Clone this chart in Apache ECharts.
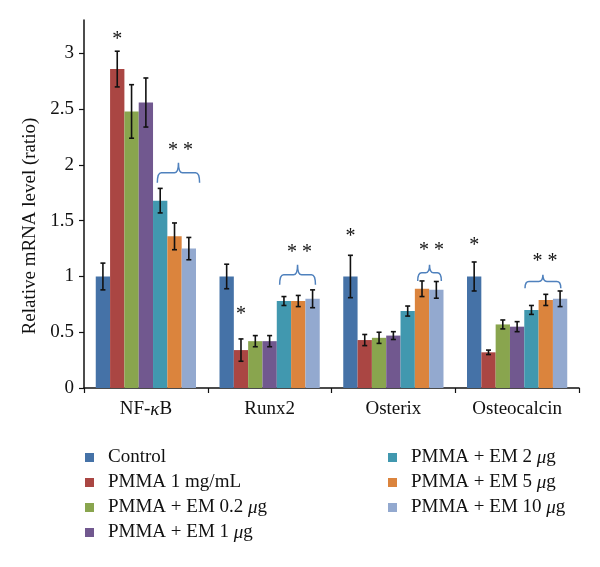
<!DOCTYPE html>
<html>
<head>
<meta charset="utf-8">
<script src="https://cdn.jsdelivr.net/npm/echarts@6/dist/echarts.min.js"></script>
<style>html,body{margin:0;padding:0;background:#fff}#c{width:600px;height:567px}</style>
</head>
<body>
<div id="c"></div>
<script>
var categories = ['NF-κB', 'Runx2', 'Osterix', 'Osteocalcin'];
var seriesNames = ['Control', 'PMMA 1 mg/mL', 'PMMA + EM 0.2 μg', 'PMMA + EM 1 μg', 'PMMA + EM 2 μg', 'PMMA + EM 5 μg', 'PMMA + EM 10 μg'];
var colors = ['#4572A7', '#AA4643', '#89A54E', '#71588F', '#4198AF', '#DB843D', '#93A9CF'];

var control = [1.00, 1.00, 1.00, 1.00];
var pmma1 = [2.86, 0.34, 0.43, 0.32];
var em02 = [2.48, 0.42, 0.45, 0.57];
var em1 = [2.56, 0.42, 0.47, 0.55];
var em2 = [1.68, 0.78, 0.69, 0.70];
var em5 = [1.36, 0.78, 0.89, 0.79];
var em10 = [1.25, 0.80, 0.88, 0.80];

var errControl = [0.12, 0.11, 0.19, 0.13];
var errPmma1 = [0.16, 0.10, 0.05, 0.02];
var errEm02 = [0.24, 0.05, 0.05, 0.04];
var errEm1 = [0.22, 0.05, 0.035, 0.045];
var errEm2 = [0.11, 0.04, 0.045, 0.04];
var errEm5 = [0.12, 0.05, 0.07, 0.05];
var errEm10 = [0.10, 0.08, 0.075, 0.07];

var yTicks = [0, 0.5, 1, 1.5, 2, 2.5, 3];

// significance annotations (category index, bar position, value)
var starCat = [0, 1, 2, 3];
var starBar = [1, 1, 0, 0];
var starY = [3.17, 0.70, 1.40, 1.32];
var braceCat = [0, 1, 2, 3];
var braceFrom = [3.8, 3.7, 4.7, 3.55];
var braceTo = [6.75, 6.2, 6.35, 6.05];
var braceLow = [1.84, 0.925, 0.96, 0.895];
var braceHigh = [2.02, 1.105, 1.105, 1.015];
var dblStarY = [2.17, 1.26, 1.28, 1.18];

var allValues = [control, pmma1, em02, em1, em2, em5, em10];
var allErrors = [errControl, errPmma1, errEm02, errEm1, errEm2, errEm5, errEm10];

var FONT = 'Liberation Serif';
var GAP = 0.19;
var NB = 7;
var STAR_SHIFT = 5;

function barX(api, cat, pos) {
  var center = api.coord([cat, 0])[0];
  var band = api.size([1, 0])[0];
  var groupW = band * (1 - GAP);
  var bw = groupW / NB;
  return center - groupW / 2 + (pos + 0.5) * bw;
}

var series = [];
seriesNames.forEach(function (n, i) {
  series.push({
    name: n, type: 'bar', data: allValues[i],
    barGap: '0%', barCategoryGap: (GAP * 100) + '%',
    itemStyle: { color: colors[i] },
    emphasis: { disabled: true }, silent: true
  });
});

var errData = [];
for (var s = 0; s < NB; s++) {
  for (var c = 0; c < categories.length; c++) {
    errData.push([c, s, allValues[s][c], allErrors[s][c]]);
  }
}
series.push({
  type: 'custom', silent: true, z: 5,
  data: errData,
  encode: { x: 0, y: 2 },
  renderItem: function (params, api) {
    var cat = api.value(0), s = api.value(1), v = api.value(2), e = api.value(3);
    var x = barX(api, cat, s);
    var yt = api.coord([cat, v + e])[1];
    var yb = api.coord([cat, v - e])[1];
    var cw = 2.5;
    var st = { stroke: '#111', lineWidth: 1.6, fill: null };
    return {
      type: 'group', children: [
        { type: 'line', shape: { x1: x, y1: yt, x2: x, y2: yb }, style: st },
        { type: 'line', shape: { x1: x - cw, y1: yt, x2: x + cw, y2: yt }, style: st },
        { type: 'line', shape: { x1: x - cw, y1: yb, x2: x + cw, y2: yb }, style: st }
      ]
    };
  }
});

var braceData = braceCat.map(function (c, i) {
  return [c, braceFrom[i], braceTo[i], braceLow[i], braceHigh[i], dblStarY[i]];
});
series.push({
  type: 'custom', silent: true, z: 6,
  data: braceData,
  encode: { x: 0, y: 4 },
  renderItem: function (params, api) {
    var cat = api.value(0);
    var x1 = barX(api, cat, api.value(1));
    var x2 = barX(api, cat, api.value(2));
    var yb = api.coord([cat, api.value(3)])[1];
    var yt = api.coord([cat, api.value(4)])[1];
    var ys = api.coord([cat, api.value(5)])[1];
    var ym = (yb + yt) / 2;
    var xm = (x1 + x2) / 2;
    var r = 4;
    var path = 'M' + x1 + ' ' + yb +
      ' Q' + x1 + ' ' + ym + ' ' + (x1 + r) + ' ' + ym +
      ' L' + (xm - r) + ' ' + ym +
      ' Q' + xm + ' ' + ym + ' ' + xm + ' ' + yt +
      ' Q' + xm + ' ' + ym + ' ' + (xm + r) + ' ' + ym +
      ' L' + (x2 - r) + ' ' + ym +
      ' Q' + x2 + ' ' + ym + ' ' + x2 + ' ' + yb;
    return {
      type: 'group', children: [
        { type: 'path', shape: { pathData: path }, style: { stroke: '#4F81BD', lineWidth: 1.5, fill: null } },
        { type: 'text', x: xm + 2, y: ys + STAR_SHIFT, style: { text: '* *', font: '20px "' + FONT + '"', fill: '#111', align: 'center', verticalAlign: 'middle' } }
      ]
    };
  }
});

var starData = starCat.map(function (c, i) { return [c, starBar[i], starY[i]]; });
series.push({
  type: 'custom', silent: true, z: 6,
  data: starData,
  encode: { x: 0, y: 2 },
  renderItem: function (params, api) {
    var cat = api.value(0);
    var x = barX(api, cat, api.value(1));
    var y = api.coord([cat, api.value(2)])[1];
    return { type: 'text', x: x, y: y + STAR_SHIFT, style: { text: '*', font: '20px "' + FONT + '"', fill: '#111', align: 'center', verticalAlign: 'middle' } };
  }
});

function legendFmt(name) {
  return name.replace(/ μg/, ' {it|μ}g');
}
var legendText = {
  fontFamily: FONT, fontSize: 19, color: '#111', padding: [0, 0, 0, 9],
  rich: { it: { fontFamily: FONT, fontSize: 19, fontStyle: 'italic', color: '#111' } }
};

var option = {
  animation: false,
  backgroundColor: '#fff',
  grid: { left: 84, right: 21, top: 20, bottom: 179, containLabel: false },
  legend: [
    {
      data: seriesNames.slice(0, 4), orient: 'vertical', left: 80, top: 443,
      icon: 'rect', itemWidth: 9, itemHeight: 9, itemGap: 6,
      textStyle: legendText, formatter: legendFmt, selectedMode: false
    },
    {
      data: seriesNames.slice(4), orient: 'vertical', left: 383, top: 443,
      icon: 'rect', itemWidth: 9, itemHeight: 9, itemGap: 6,
      textStyle: legendText, formatter: legendFmt, selectedMode: false
    }
  ],
  xAxis: {
    type: 'category', data: categories,
    axisLine: { lineStyle: { color: '#111', width: 1.5 } },
    axisTick: { show: true, length: 5, lineStyle: { color: '#111', width: 1.2 } },
    axisLabel: {
      fontFamily: FONT, fontSize: 19, color: '#111', margin: 12,
      formatter: function (v) { return v.replace('κ', '{it|κ}'); },
      rich: { it: { fontFamily: FONT, fontSize: 19, fontStyle: 'italic', color: '#111' } }
    }
  },
  yAxis: {
    type: 'value', min: 0, max: 3.3,
    name: 'Relative mRNA level (ratio)', nameLocation: 'middle', nameGap: 39,
    nameTextStyle: { fontFamily: FONT, fontSize: 19, color: '#111', padding: [0, 44, 0, 0] },
    axisLine: { show: true, lineStyle: { color: '#111', width: 1.5 } },
    axisTick: { show: true, length: 5, lineStyle: { color: '#111', width: 1.2 }, customValues: yTicks },
    axisLabel: { fontFamily: FONT, fontSize: 19, color: '#111', margin: 10, customValues: yTicks },
    splitLine: { show: false }
  },
  series: series
};
echarts.init(document.getElementById('c')).setOption(option);
</script>
</body>
</html>
